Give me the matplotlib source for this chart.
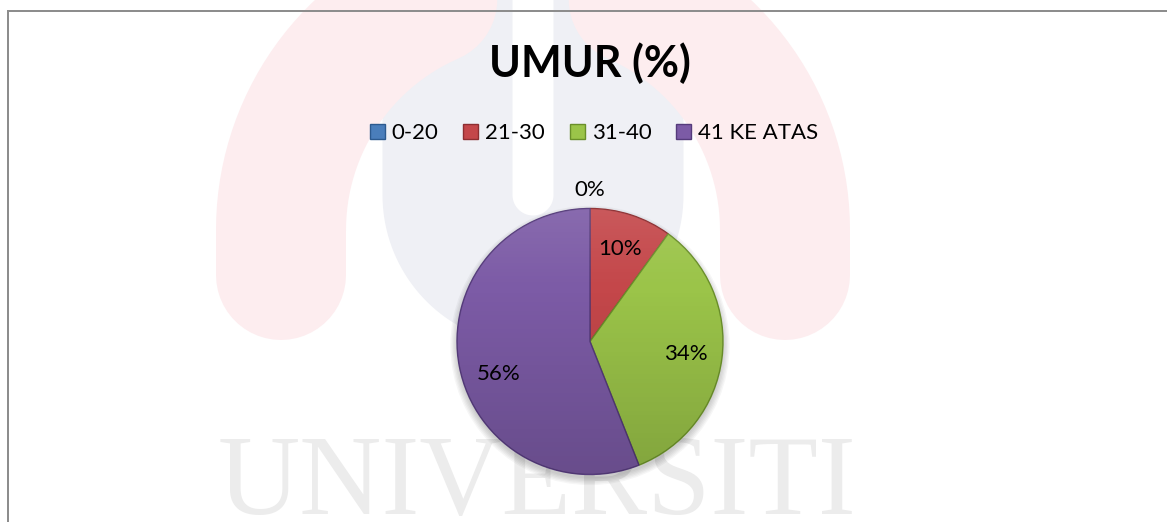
import numpy as np
import matplotlib.pyplot as plt
from matplotlib.patches import Circle

# data
categories = ['0-20', '21-30', '31-40', '41 KE ATAS']
values = [0, 10, 34, 56]
colors = ['#4a7ebb', '#c4474a', '#9bc449', '#7c5ba6']
edges = ['#2c5a8f', '#8e2e31', '#6a8f2a', '#553b7b']

plt.rcParams['font.family'] = ['Lato', 'DejaVu Sans']

W, H = 1167, 522
PX = 72 / 100  # points per pixel at dpi 100

fig = plt.figure(figsize=(W / 100, H / 100), dpi=100)

# background layer in pixel coordinates (watermark + frame)
bg = fig.add_axes([0, 0, 1, 1])
bg.set_xlim(0, W)
bg.set_ylim(H, 0)
bg.axis('off')

# faint logo watermark
t = np.linspace(np.pi, 0, 80)
ux = np.r_[447.5, 533 + 85.5 * np.cos(t), 618.5]
uy = np.r_[-30, 195 + 85.5 * np.sin(t), -30]
bg.plot(ux, uy, color='#eff0f5', lw=130 * PX, solid_capstyle='butt')

ax_ = np.r_[281, 533 + 252 * np.cos(t), 785]
ay_ = np.r_[275, 230 - 252 * np.sin(t), 275]
bg.plot(ax_, ay_, color='#fdedef', lw=130 * PX, solid_capstyle='round')

bg.text(537, 514, 'UNIVERSITI', family='Liberation Serif', fontsize=82,
        color='#ececec', ha='center', va='baseline')

# chart frame (only top and left edges are visible)
bg.plot([7.5, 7.5], [H + 5, 10.5], color='#8d8d8d', lw=2 * PX)
bg.plot([7.5, W + 5], [10.5, 10.5], color='#8d8d8d', lw=2 * PX)

bg.text(590, 77, 'UMUR (%)', ha='center', va='baseline',
        fontsize=31, fontweight='bold', color='#000000')

# pie
R = 133
cx, cy = 590, 341.5
side = 2.6 * R
pax = fig.add_axes([(cx - side / 2) / W, (H - cy - side / 2) / H, side / W, side / H])

for k in range(6):
    pax.add_patch(Circle((0, -0.03), 1.0 + 0.01 * k, color='#000000',
                         alpha=0.035, lw=0, zorder=0))

wedges, _ = pax.pie(values, colors=colors, startangle=90, counterclock=False,
                    wedgeprops=dict(linewidth=1))
for w, e in zip(wedges, edges):
    w.set_edgecolor(e)
    w.set_zorder(2)

# soft shading similar to the bevel look
n = 200
shade = np.zeros((n, 1, 4))
g = np.linspace(0, 1, n)
shade[:, 0, :3] = np.where(g[:, None] < 0.3, 1.0, 0.0)
shade[:, 0, 3] = np.where(g < 0.3, 0.10 * (1 - g / 0.3), 0.16 * (g - 0.3) / 0.7)
im = pax.imshow(shade, extent=(-1, 1, -1, 1), aspect='auto', zorder=3)
im.set_clip_path(Circle((0, 0), 1, transform=pax.transData))

for w, v in zip(wedges, values):
    ang = np.deg2rad((w.theta1 + w.theta2) / 2)
    r = 0.73 if v > 0 else 1.14
    # larger slices get their label pulled slightly lower, as in the source
    if v > 50:
        ang += np.deg2rad(9)
    pax.text(r * np.cos(ang), r * np.sin(ang), f'{v}%', ha='center',
             va='center', fontsize=16, color='#000000', zorder=4)

pax.set_xlim(-1.3, 1.3)
pax.set_ylim(-1.3, 1.3)
pax.set_aspect('equal')
pax.axis('off')

bg.legend(wedges, categories, loc='center', bbox_to_anchor=(594, 133),
          bbox_transform=bg.transData, ncol=4, frameon=False, fontsize=16,
          handlelength=0.68, handleheight=0.68, handletextpad=0.32,
          columnspacing=1.1, borderpad=0)

fig.savefig('out.png', dpi=100)
